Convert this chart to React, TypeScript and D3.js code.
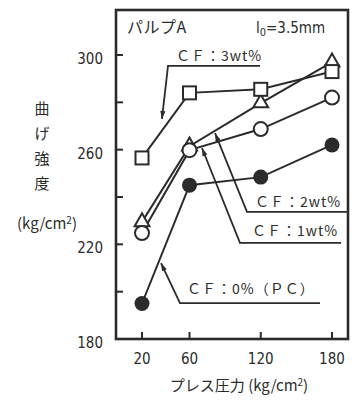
import { useEffect, useRef } from 'react'
import * as d3 from 'd3'

// プレス圧力 (kg/cm2)
const pressure = [20, 60, 120, 180]
const xTicks = [20, 60, 120, 180]
const yTicks = [180, 200, 220, 240, 260, 280, 300]
const yLabels = [180, 220, 260, 300]

// 曲げ強度 (kg/cm2)
const cf3 = [256.5, 284, 285.5, 293]
const cf2 = [229.5, 261.5, 279.7, 297]
const cf1 = [224.8, 259.8, 268.7, 282]
const cf0 = [195, 245, 248.4, 262]

// 注記（データ座標）
const notes = [
  { text: 'ＣＦ：3wt%', tx: 48.6, ty: 297.3, x1: 41.9, x2: 119.4, uy: 295.4, px: 36.8, py: 273 },
  { text: 'ＣＦ：2wt%', tx: 115.2, ty: 235.8, x1: 108.4, x2: 193.5, uy: 233.7, px: 81.5, py: 267 },
  { text: 'ＣＦ：1wt%', tx: 112.6, ty: 223.5, x1: 102.5, x2: 187.6, uy: 220.6, px: 70.5, py: 260.7 },
  { text: 'ＣＦ：0%（ＰＣ）', tx: 57.9, ty: 199, x1: 52, x2: 169.9, uy: 195.2, px: 36, py: 212.1 }
]

const INK = '#2b2b2b'
const JP = "'Noto Sans CJK JP', sans-serif"
const NUM = "'DejaVu Sans Condensed', 'Liberation Sans Narrow', sans-serif"

export default function App() {
  const svgRef = useRef<SVGSVGElement>(null)

  useEffect(() => {
    const svg = d3.select(svgRef.current)
    svg.selectAll('*').remove()

    const frame = { left: 116, right: 348, top: 10, bottom: 339 }
    const x = d3.scaleLinear().domain([20, 180]).range([142, 332])
    const y = d3.scaleLinear().domain([180, 300]).range([339, 55])

    svg.append('rect')
      .attr('width', 357).attr('height', 406).attr('fill', '#fff')

    // 枠
    svg.append('rect')
      .attr('x', frame.left).attr('y', frame.top)
      .attr('width', frame.right - frame.left)
      .attr('height', frame.bottom - frame.top)
      .attr('fill', 'none').attr('stroke', INK).attr('stroke-width', 2.6)

    // 目盛り（内向き）
    svg.selectAll('.yt').data(yTicks).enter().append('line')
      .attr('x1', frame.left).attr('x2', frame.left + 7)
      .attr('y1', d => y(d)).attr('y2', d => y(d))
      .attr('stroke', INK).attr('stroke-width', 2)
    svg.selectAll('.xt').data(xTicks).enter().append('line')
      .attr('x1', d => x(d)).attr('x2', d => x(d))
      .attr('y1', frame.bottom).attr('y2', frame.bottom - 7)
      .attr('stroke', INK).attr('stroke-width', 2)

    svg.selectAll('.yl').data(yLabels).enter().append('text')
      .attr('x', 103).attr('y', d => y(d) + 9)
      .attr('text-anchor', 'end')
      .style('font-family', NUM).style('font-size', '15px')
      .attr('fill', INK).text(d => d)
    svg.selectAll('.xl').data(xTicks).enter().append('text')
      .attr('x', d => x(d)).attr('y', 364)
      .attr('text-anchor', 'middle')
      .style('font-family', NUM).style('font-size', '15px')
      .attr('fill', INK).text(d => d)

    // 軸タイトル
    const yTitle = ['曲', 'げ', '強', '度']
    svg.selectAll('.yti').data(yTitle).enter().append('text')
      .attr('x', 42).attr('y', (d, i) => 114 + i * 25)
      .attr('text-anchor', 'middle')
      .style('font-family', JP).style('font-size', '15px')
      .attr('fill', INK).text(d => d)
    const yUnit = svg.append('text')
      .attr('x', 47).attr('y', 229).attr('text-anchor', 'middle')
      .style('font-family', JP).style('font-size', '15px').attr('fill', INK)
    yUnit.append('tspan').text('(kg/cm')
    yUnit.append('tspan').attr('dy', -5).style('font-size', '10px').text('2')
    yUnit.append('tspan').attr('dy', 5).text(')')

    const xTitle = svg.append('text')
      .attr('x', 239).attr('y', 391).attr('text-anchor', 'middle')
      .style('font-family', JP).style('font-size', '15px').attr('fill', INK)
    xTitle.append('tspan').text('プレス圧力 (kg/cm')
    xTitle.append('tspan').attr('dy', -5).style('font-size', '10px').text('2')
    xTitle.append('tspan').attr('dy', 5).text(')')

    // 見出し
    svg.append('text')
      .attr('x', 127).attr('y', 33)
      .style('font-family', JP).style('font-size', '16px')
      .style('letter-spacing', '0.5px')
      .attr('fill', INK).text('パルプA')
    const lz = svg.append('text')
      .attr('x', 256).attr('y', 33)
      .style('font-family', NUM).style('font-size', '15px').attr('fill', INK)
    lz.append('tspan').text('l')
    lz.append('tspan').attr('dy', 3).style('font-size', '11px').text('0')
    lz.append('tspan').attr('dy', -3).text('=3.5mm')

    // 系列
    const pts = (vals: number[]) => pressure.map((p, i) => [x(p), y(vals[i])] as [number, number])
    const line = d3.line()
    const series = [cf0, cf1, cf2, cf3]
    series.forEach(vals => {
      svg.append('path')
        .attr('d', line(pts(vals)))
        .attr('fill', 'none').attr('stroke', INK).attr('stroke-width', 2)
    })

    // 注記線と矢印
    notes.forEach(n => {
      const tipX = x(n.px), tipY = y(n.py)
      const sx = x(n.x1), sy = y(n.uy)
      svg.append('polyline')
        .attr('points', `${tipX},${tipY} ${sx},${sy} ${x(n.x2)},${sy}`)
        .attr('fill', 'none').attr('stroke', INK).attr('stroke-width', 1.8)
      const ang = Math.atan2(sy - tipY, sx - tipX)
      const len = 8, w = 2.6
      const bx = tipX + Math.cos(ang) * len, by = tipY + Math.sin(ang) * len
      const nx = -Math.sin(ang) * w, ny = Math.cos(ang) * w
      svg.append('polygon')
        .attr('points', `${tipX},${tipY} ${bx + nx},${by + ny} ${bx - nx},${by - ny}`)
        .attr('fill', INK)
      svg.append('text')
        .attr('x', x(n.tx)).attr('y', y(n.ty))
        .style('font-family', JP).style('font-size', '14px')
        .style('letter-spacing', '1px')
        .attr('fill', INK).text(n.text)
    })

    // マーカー
    const r = 7
    svg.selectAll('.m0').data(pts(cf0)).enter().append('circle')
      .attr('cx', d => d[0]).attr('cy', d => d[1]).attr('r', r + 0.5)
      .attr('fill', INK)
    svg.selectAll('.m2').data(pts(cf2)).enter().append('path')
      .attr('d', d3.symbol().type(d3.symbolTriangle).size(95))
      .attr('transform', d => `translate(${d[0]},${d[1]})`)
      .attr('fill', '#fff').attr('stroke', INK).attr('stroke-width', 2)
    svg.selectAll('.m1').data(pts(cf1)).enter().append('circle')
      .attr('cx', d => d[0]).attr('cy', d => d[1]).attr('r', r)
      .attr('fill', '#fff').attr('stroke', INK).attr('stroke-width', 2)
    svg.selectAll('.m3').data(pts(cf3)).enter().append('rect')
      .attr('x', d => d[0] - 6.5).attr('y', d => d[1] - 6.5)
      .attr('width', 13).attr('height', 13)
      .attr('fill', '#fff').attr('stroke', INK).attr('stroke-width', 2)
  }, [])

  return (
    <svg ref={svgRef} width={357} height={406}
      style={{ position: 'absolute', left: 0, top: 0 }} />
  )
}
